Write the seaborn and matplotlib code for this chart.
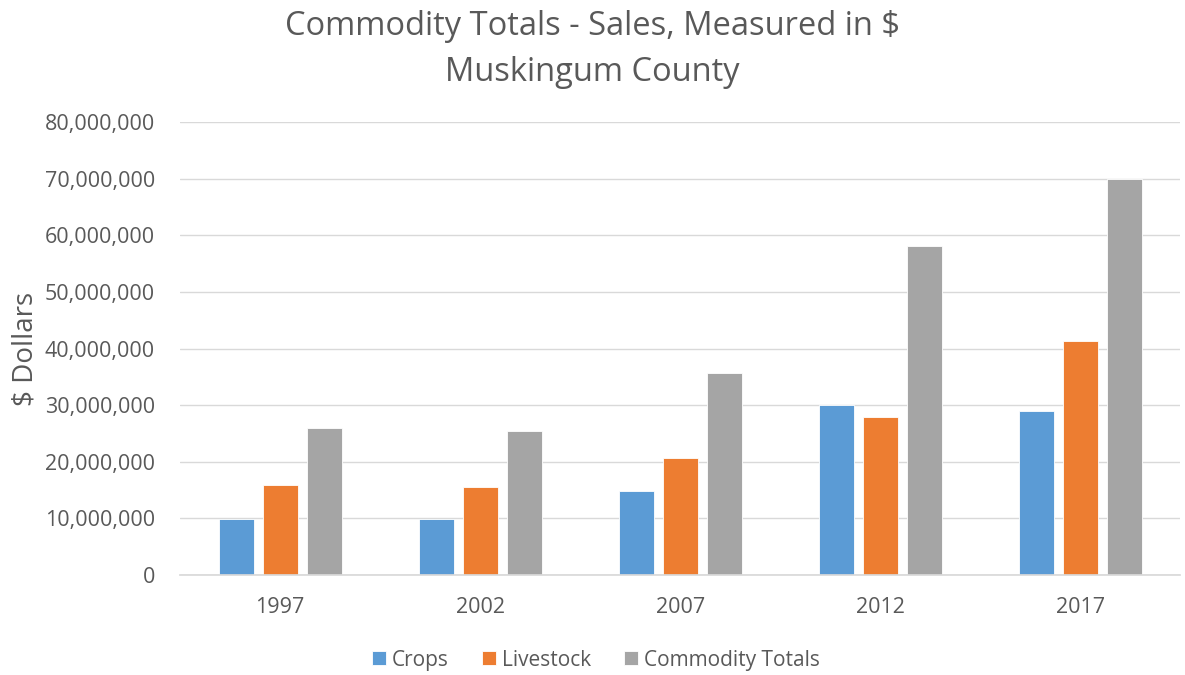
import matplotlib
matplotlib.use("Agg")
import matplotlib.pyplot as plt
import matplotlib.ticker as mticker
import seaborn as sns
import pandas as pd

# Valores (dólares)
anos = ["1997", "2002", "2007", "2012", "2017"]
crops = [9_900_000, 9_900_000, 14_800_000, 30_100_000, 28_900_000]
livestock = [16_000_000, 15_500_000, 20_700_000, 28_000_000, 41_400_000]
commodity_totals = [25_900_000, 25_500_000, 35_700_000, 58_200_000, 70_000_000]

series = ["Crops", "Livestock", "Commodity Totals"]
cores = ["#5B9BD5", "#ED7D31", "#A5A5A5"]

df = pd.DataFrame({
    "Ano": anos * 3,
    "Serie": [s for s in series for _ in anos],
    "Valor": crops + livestock + commodity_totals,
})

sns.set_theme(style="white")
plt.rcParams["font.family"] = ["Open Sans", "DejaVu Sans"]

fig = plt.figure(figsize=(11.85, 6.75), dpi=100)
ax = fig.add_axes([0.152, 0.148, 0.844, 0.671])

sns.barplot(data=df, x="Ano", y="Valor", hue="Serie", palette=cores,
            width=0.66, gap=0.2, edgecolor="white", linewidth=0.6,
            saturation=1, ax=ax, legend=True)

ax.set_ylim(0, 80_000_000)
ax.set_xlim(-0.5, 4.5)
ax.yaxis.set_major_locator(mticker.MultipleLocator(10_000_000))
ax.yaxis.set_major_formatter(mticker.FuncFormatter(lambda v, p: f"{int(v):,}"))
ax.grid(axis="y", color="#D9D9D9", linewidth=1)
ax.set_axisbelow(True)
for lado in ["top", "right", "left"]:
    ax.spines[lado].set_visible(False)
ax.spines["bottom"].set_color("#D9D9D9")
ax.tick_params(axis="both", length=0, labelsize=15.5, labelcolor="#595959")
ax.tick_params(axis="y", pad=18)
ax.tick_params(axis="x", pad=16)

ax.set_xlabel("")
ax.set_ylabel("$ Dollars", fontsize=20, color="#595959", labelpad=4)

fig.suptitle("Commodity Totals - Sales, Measured in $\nMuskingum County",
             fontsize=23.5, color="#595959", y=0.985, linespacing=1.5)

handles, labels = ax.get_legend_handles_labels()
fig.legend(handles, labels, loc="center", bbox_to_anchor=(0.503, 0.022),
           ncol=3, frameon=False, fontsize=15, labelcolor="#595959",
           handlelength=0.65, handleheight=0.65, handletextpad=0.3,
           columnspacing=1.6)
ax.get_legend().remove()

plt.savefig("out.png", dpi=100)
plt.close()
